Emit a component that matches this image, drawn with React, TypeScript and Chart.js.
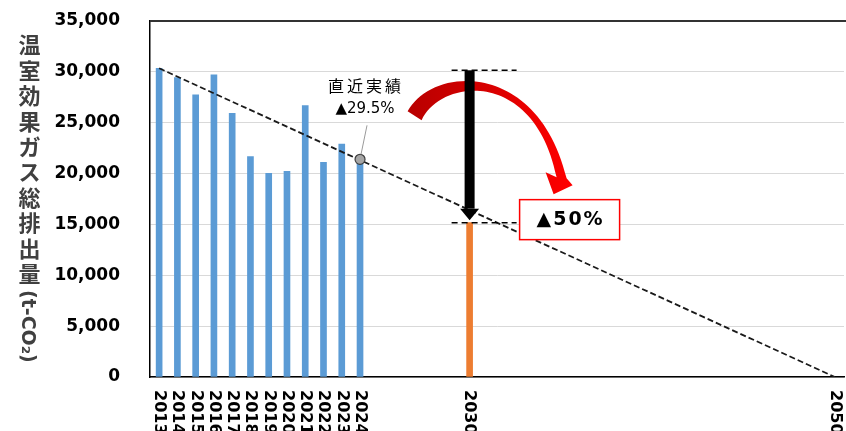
import React, { useEffect, useRef } from "react";
import { Chart, registerables } from "chart.js";

Chart.register(...registerables);

const FIRST_YEAR = 2013;
const LAST_YEAR = 2050;
const categories: string[] = Array.from({ length: LAST_YEAR - FIRST_YEAR + 1 }, (_, i) => String(FIRST_YEAR + i));

const actualYears = ["2013", "2014", "2015", "2016", "2017", "2018", "2019", "2020", "2021", "2022", "2023", "2024"];
const actualValues = [30350, 29430, 27730, 29720, 25930, 21660, 20030, 20220, 26680, 21110, 22910, 21400];
const targetYear = "2030";
const targetValue = 15175;
const trendYears = ["2013", "2050"];
const trendValues = [30350, 0];
const latestYear = "2024";
const latestValue = 21400;
const shownYearLabels = [...actualYears, "2030", "2050"];
const yTitleUpright = "温室効果ガス総排出量";
const yTitleRotated = "(t-CO₂)";
const latestLabel1 = "直近実績";
const latestLabel2 = "▲29.5%";
const targetLabel = "▲50%";

const Y_MIN = 0;
const Y_MAX = 35000;
const Y_STEP = 5000;

const annotPlugin = {
  id: "annot",
  afterDatasetsDraw(chart: any) {
    const ctx = chart.ctx as CanvasRenderingContext2D;
    const xs = chart.scales.x;
    const ys = chart.scales.y;
    const X = xs.getPixelForValue(categories.indexOf(targetYear)) + 1;
    const T = ys.getPixelForValue(actualValues[0]);
    const B = ys.getPixelForValue(targetValue);

    ctx.save();
    // red curved arrow
    const g = ctx.createLinearGradient(X - 63, 0, X + 100, 0);
    g.addColorStop(0, "#b80000");
    g.addColorStop(0.45, "#d40000");
    g.addColorStop(1, "#ff0000");
    ctx.fillStyle = g;
    ctx.beginPath();
    ctx.moveTo(X - 63, T + 43);
    ctx.bezierCurveTo(X - 37, T - 4, X + 68, T - 7, X + 96, T + 110);
    ctx.lineTo(X + 102, T + 117);
    ctx.lineTo(X + 83, T + 126);
    ctx.lineTo(X + 75, T + 104);
    ctx.lineTo(X + 86, T + 109);
    ctx.bezierCurveTo(X + 64, T + 0, X - 30, T + 10, X - 49, T + 52);
    ctx.closePath();
    ctx.fill();

    // dashed short horizontal lines
    ctx.strokeStyle = "#000";
    ctx.lineWidth = 1.5;
    ctx.setLineDash([6, 4]);
    ctx.beginPath();
    ctx.moveTo(X - 19, T + 2);
    ctx.lineTo(X + 46, T + 2);
    ctx.moveTo(X - 19, B);
    ctx.lineTo(X + 46, B);
    ctx.stroke();
    ctx.setLineDash([]);

    // black arrow
    const Xa = X - 1;
    ctx.fillStyle = "#000";
    ctx.fillRect(Xa - 5, T + 2, 10, B - 14 - (T + 2));
    ctx.beginPath();
    ctx.moveTo(Xa - 9.5, B - 14);
    ctx.lineTo(Xa + 9.5, B - 14);
    ctx.lineTo(Xa, B - 2.5);
    ctx.closePath();
    ctx.fill();

    // target box
    const bx = X + 49, by = B - 23, bw = 100, bh = 40;
    ctx.fillStyle = "#fff";
    ctx.fillRect(bx, by, bw, bh);
    ctx.strokeStyle = "#ff0000";
    ctx.lineWidth = 1.5;
    ctx.strokeRect(bx, by, bw, bh);
    ctx.fillStyle = "#000";
    ctx.font = 'bold 19px "DejaVu Sans"';
    ctx.textAlign = "center";
    ctx.textBaseline = "middle";
    (ctx as any).letterSpacing = "2px";
    ctx.fillText(targetLabel, bx + bw / 2 + 1, by + bh / 2);

    // latest label
    const px = xs.getPixelForValue(categories.indexOf(latestYear));
    const py = ys.getPixelForValue(latestValue);
    ctx.strokeStyle = "#9a9a9a";
    ctx.lineWidth = 1;
    ctx.beginPath();
    ctx.moveTo(px + 7, py - 34);
    ctx.lineTo(px + 1, py - 5);
    ctx.stroke();
    ctx.fillStyle = "#000";
    ctx.font = '16px "Noto Sans CJK JP"';
    (ctx as any).letterSpacing = "3px";
    ctx.fillText(latestLabel1, px + 6, py - 73);
    ctx.font = '15px "DejaVu Sans"';
    (ctx as any).letterSpacing = "0px";
    ctx.fillText(latestLabel2, px + 5, py - 50);
    ctx.restore();
  },
  afterDraw(chart: any) {
    const ctx = chart.ctx as CanvasRenderingContext2D;
    const xs = chart.scales.x;
    const area = chart.chartArea;
    ctx.save();
    // top border
    ctx.strokeStyle = "#333";
    ctx.lineWidth = 2;
    ctx.beginPath();
    ctx.moveTo(area.left, area.top);
    ctx.lineTo(chart.width, area.top);
    ctx.stroke();

    // x labels rotated clockwise
    ctx.fillStyle = "#000";
    ctx.font = 'bold 16px "DejaVu Sans"';
    ctx.textAlign = "left";
    ctx.textBaseline = "middle";
    for (const yr of shownYearLabels) {
      const x = xs.getPixelForValue(categories.indexOf(yr));
      ctx.save();
      ctx.translate(x, area.bottom + 13);
      ctx.rotate(Math.PI / 2);
      ctx.fillText(yr, 0, 0);
      ctx.restore();
    }

    // y title
    ctx.fillStyle = "#404040";
    ctx.font = 'bold 22px "Noto Sans CJK JP"';
    ctx.textAlign = "center";
    ctx.textBaseline = "middle";
    const chars = Array.from(yTitleUpright);
    chars.forEach((c, i) => {
      ctx.fillText(c, 29.5, 45 + i * 25.4);
    });
    ctx.save();
    ctx.translate(27, 290);
    ctx.rotate(Math.PI / 2);
    ctx.font = 'bold 19px "DejaVu Sans"';
    ctx.textAlign = "left";
    ctx.fillText(yTitleRotated, 0, 0);
    ctx.restore();
    ctx.restore();
  },
};

export default function App() {
  const ref = useRef<HTMLCanvasElement | null>(null);
  useEffect(() => {
    document.body.style.margin = "0";
    const barData = categories.map((c) => {
      const i = actualYears.indexOf(c);
      if (i >= 0) return actualValues[i];
      if (c === targetYear) return targetValue;
      return null;
    });
    const barColors = categories.map((c) => (c === targetYear ? "#ed7d31" : "#5b9bd5"));
    const chart = new Chart(ref.current as HTMLCanvasElement, {
      type: "bar",
      data: {
        labels: categories,
        datasets: [
          {
            type: "bar",
            data: barData as any,
            backgroundColor: barColors,
            barThickness: 6,
            order: 3,
          },
          {
            type: "line",
            data: trendYears.map((y, i) => ({ x: y, y: trendValues[i] })) as any,
            borderColor: "#1a1a1a",
            borderWidth: 1.8,
            borderDash: [6, 3],
            pointRadius: 0,
            fill: false,
            order: 2,
          },
          {
            type: "line",
            data: [{ x: latestYear, y: latestValue }] as any,
            showLine: false,
            pointRadius: 5,
            pointBackgroundColor: "#a6a6a6",
            pointBorderColor: "#404040",
            pointBorderWidth: 1.2,
            order: 1,
          },
        ],
      },
      options: {
        responsive: false,
        animation: false,
        devicePixelRatio: 1,
        layout: { autoPadding: false, padding: { top: 21, right: 2, left: 0, bottom: 0 } },
        plugins: { legend: { display: false }, tooltip: { enabled: false }, title: { display: false } },
        scales: {
          x: {
            type: "category",
            offset: true,
            grid: { display: false, drawTicks: false },
            ticks: { display: false },
            border: { display: true, color: "#000", width: 1.5 },
            afterFit: (s: any) => {
              s.height = 54;
            },
          },
          y: {
            min: Y_MIN,
            max: Y_MAX,
            ticks: {
              stepSize: Y_STEP,
              padding: 3,
              color: "#000",
              font: { family: "DejaVu Sans", size: 17, weight: "bold" },
              callback: (v: any) => Number(v).toLocaleString("en-US"),
            },
            grid: { color: "#d9d9d9", lineWidth: 1, drawTicks: true, tickLength: 27, tickColor: "rgba(0,0,0,0)" },
            border: { display: true, color: "#000", width: 1.5 },
            afterFit: (s: any) => {
              s.width = 150;
            },
          },
        },
      },
      plugins: [annotPlugin],
    });
    return () => chart.destroy();
  }, []);
  return (
    <div style={{ position: "fixed", left: 0, top: 0, width: 846, height: 431, background: "#fff" }}>
      <canvas ref={ref} width={846} height={431} />
    </div>
  );
}
